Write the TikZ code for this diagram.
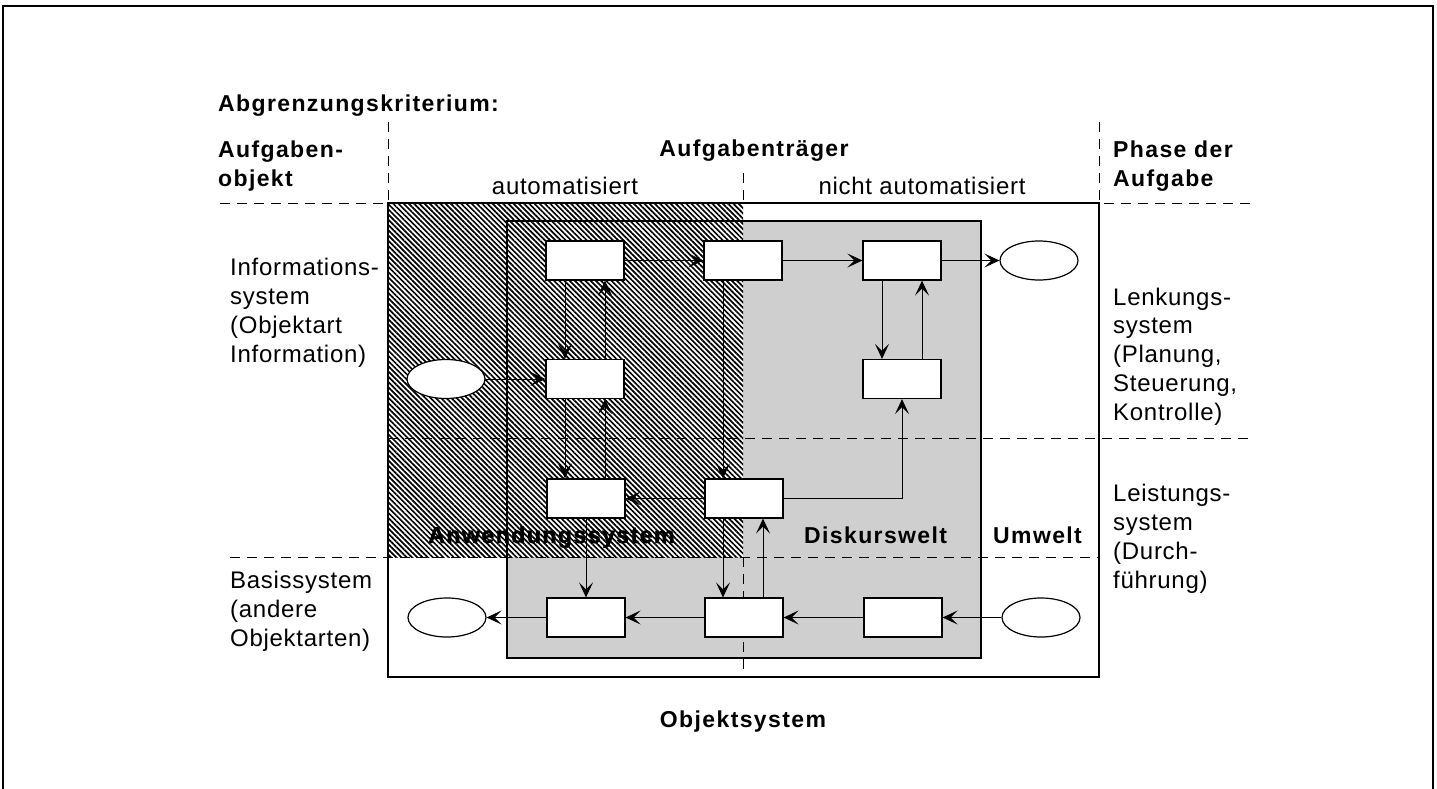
\documentclass[tikz,border=0pt]{standalone}
\usepackage{fontspec}
\setmainfont{Liberation Sans}
\newfontfamily\normfont[LetterSpace=3]{Liberation Sans}
\newfontfamily\boldfont[LetterSpace=6]{Liberation Sans}
\newfontfamily\heavyfont[LetterSpace=6,FakeBold=1.6]{Liberation Sans Bold}
\usetikzlibrary{arrows.meta,shapes.geometric,patterns.meta}
\begin{document}
\begin{tikzpicture}[x=1pt,y=-1pt,
  box/.style={draw,fill=white,line width=1.2pt,minimum width=78pt,minimum height=39pt,inner sep=0pt},
  oval/.style={ellipse,draw,fill=white,line width=1.2pt,minimum width=78pt,minimum height=39pt,inner sep=0pt},
  arr/.style={-{Stealth[length=15pt,width=14pt,inset=7pt]},line width=1pt},
  dsh/.style={dash pattern=on 10pt off 7pt,line width=1pt},
  frm/.style={line width=1.1pt},
  nt/.style={font=\normfont\fontsize{24}{28.7}\selectfont,inner sep=0pt},
  bt/.style={font=\boldfont\bfseries\fontsize{23}{29}\selectfont,inner sep=0pt},
  ht/.style={font=\heavyfont\fontsize{23.2}{29}\selectfont,inner sep=0pt}
]
\useasboundingbox (0,0) rectangle (1437,789);
% page frame
\draw[frm] (3,789) -- (3,6) -- (1433,6) -- (1433,789);
% gray Diskurswelt region
\fill[black!19] (507,221) rectangle (981,658);
% hatched Anwendungssystem region
\fill[white] (388,203) rectangle (743,557);
\fill[pattern={Lines[angle=-45,distance=3.7pt,line width=1.7pt]}] (388,203) rectangle (743,557);
\draw[frm] (507,221) rectangle (981,658);
% Objektsystem frame
\draw[frm] (388,203) rectangle (1099,677);
% header dividers
\draw[dsh] (388,122) -- (388,203);
\draw[dsh] (743,173) -- (743,203);
\draw[dsh] (1099,122) -- (1099,203);
\draw[dsh] (743,557) -- (743,677);
% horizontal dividers
\draw[dsh] (220,203) -- (1253,203);
\draw[dsh] (388,438) -- (1253,438);
\draw[dsh] (230,557) -- (1099,557);
% nodes
\node[box] (b1) at (585,260.5) {};
\node[box] (b2) at (743,260.5) {};
\node[box] (b3) at (902,260.5) {};
\node[oval] (e1) at (1039,260.5) {};
\node[oval] (e2) at (446,379) {};
\node[box] (b4) at (585,379) {};
\node[box] (b5) at (902,379) {};
\node[box] (b6) at (586,498.5) {};
\node[box] (b7) at (744,498.5) {};
\node[oval] (e3) at (447,617.5) {};
\node[box] (b8) at (586,617.5) {};
\node[box] (b9) at (744,617.5) {};
\node[box] (b10) at (903,617.5) {};
\node[oval] (e4) at (1041,617.5) {};
% connectors
\draw[arr] (b1.east) -- (b2.west);
\draw[arr] (b2.east) -- (b3.west);
\draw[arr] (b3.east) -- (e1.west);
\draw[arr] (e2.east) -- (b4.west);
\draw[arr] ([xshift=-20pt]b1.south) -- ([xshift=-20pt]b4.north);
\draw[arr] ([xshift=20pt]b4.north) -- ([xshift=20pt]b1.south);
\draw[arr] ([xshift=-20pt]b4.south) -- ([xshift=-21pt]b6.north);
\draw[arr] ([xshift=19pt]b6.north) -- ([xshift=20pt]b4.south);
\draw[arr] ([xshift=-20pt]b2.south) -- ([xshift=-21pt]b7.north);
\draw[arr] ([xshift=-20pt]b3.south) -- ([xshift=-20pt]b5.north);
\draw[arr] ([xshift=20pt]b5.north) -- ([xshift=20pt]b3.south);
\draw[arr] (b7.east) -| (b5.south);
\draw[arr] (b7.west) -- (b6.east);
\draw[arr] (b6.south) -- (b8.north);
\draw[arr] ([xshift=-21pt]b7.south) -- ([xshift=-21pt]b9.north);
\draw[arr] ([xshift=19pt]b9.north) -- ([xshift=19pt]b7.south);
\draw[arr] (b9.west) -- (b8.east);
\draw[arr] (b8.west) -- (e3.east);
\draw[arr] (b10.west) -- (b9.east);
\draw[arr] (e4.west) -- (b10.east);
% texts (base of a multi-line node = baseline of its last line)
\node[bt,anchor=base west] (crit) at (218,112) {Abgrenzungskriterium:};
\node[bt,anchor=base west,align=left] (obj) at (218,186) {Aufgaben-\\objekt};
\node[bt,anchor=base] (traeger) at (754,157) {Aufgabenträger};
\node[bt,anchor=base west,align=left] (phase) at (1113,186) {Phase der\\Aufgabe};
\node[nt,anchor=base] (auto) at (565,194) {automatisiert};
\node[nt,anchor=base] (nauto) at (922,194) {nicht automatisiert};
\node[nt,anchor=base west,align=left] (info) at (230,362) {Informations-\\system\\(Objektart\\Information)};
\node[nt,anchor=base west,align=left] (basis) at (230,646) {Basissystem\\(andere\\Objektarten)};
\node[nt,anchor=base west,align=left] (lenk) at (1113,420) {Lenkungs-\\system\\(Planung,\\Steuerung,\\Kontrolle)};
\node[nt,anchor=base west,align=left] (leist) at (1113,588) {Leistungs-\\system\\(Durch-\\führung)};
\node[ht,anchor=base west] (anw) at (428,543) {Anwendungssystem};
\node[bt,anchor=base west] (disk) at (804,543) {Diskurswelt};
\node[bt,anchor=base west] (umw) at (993,543) {Umwelt};
\node[bt,anchor=base] (objsys) at (743,727) {Objektsystem};
\end{tikzpicture}
\end{document}
